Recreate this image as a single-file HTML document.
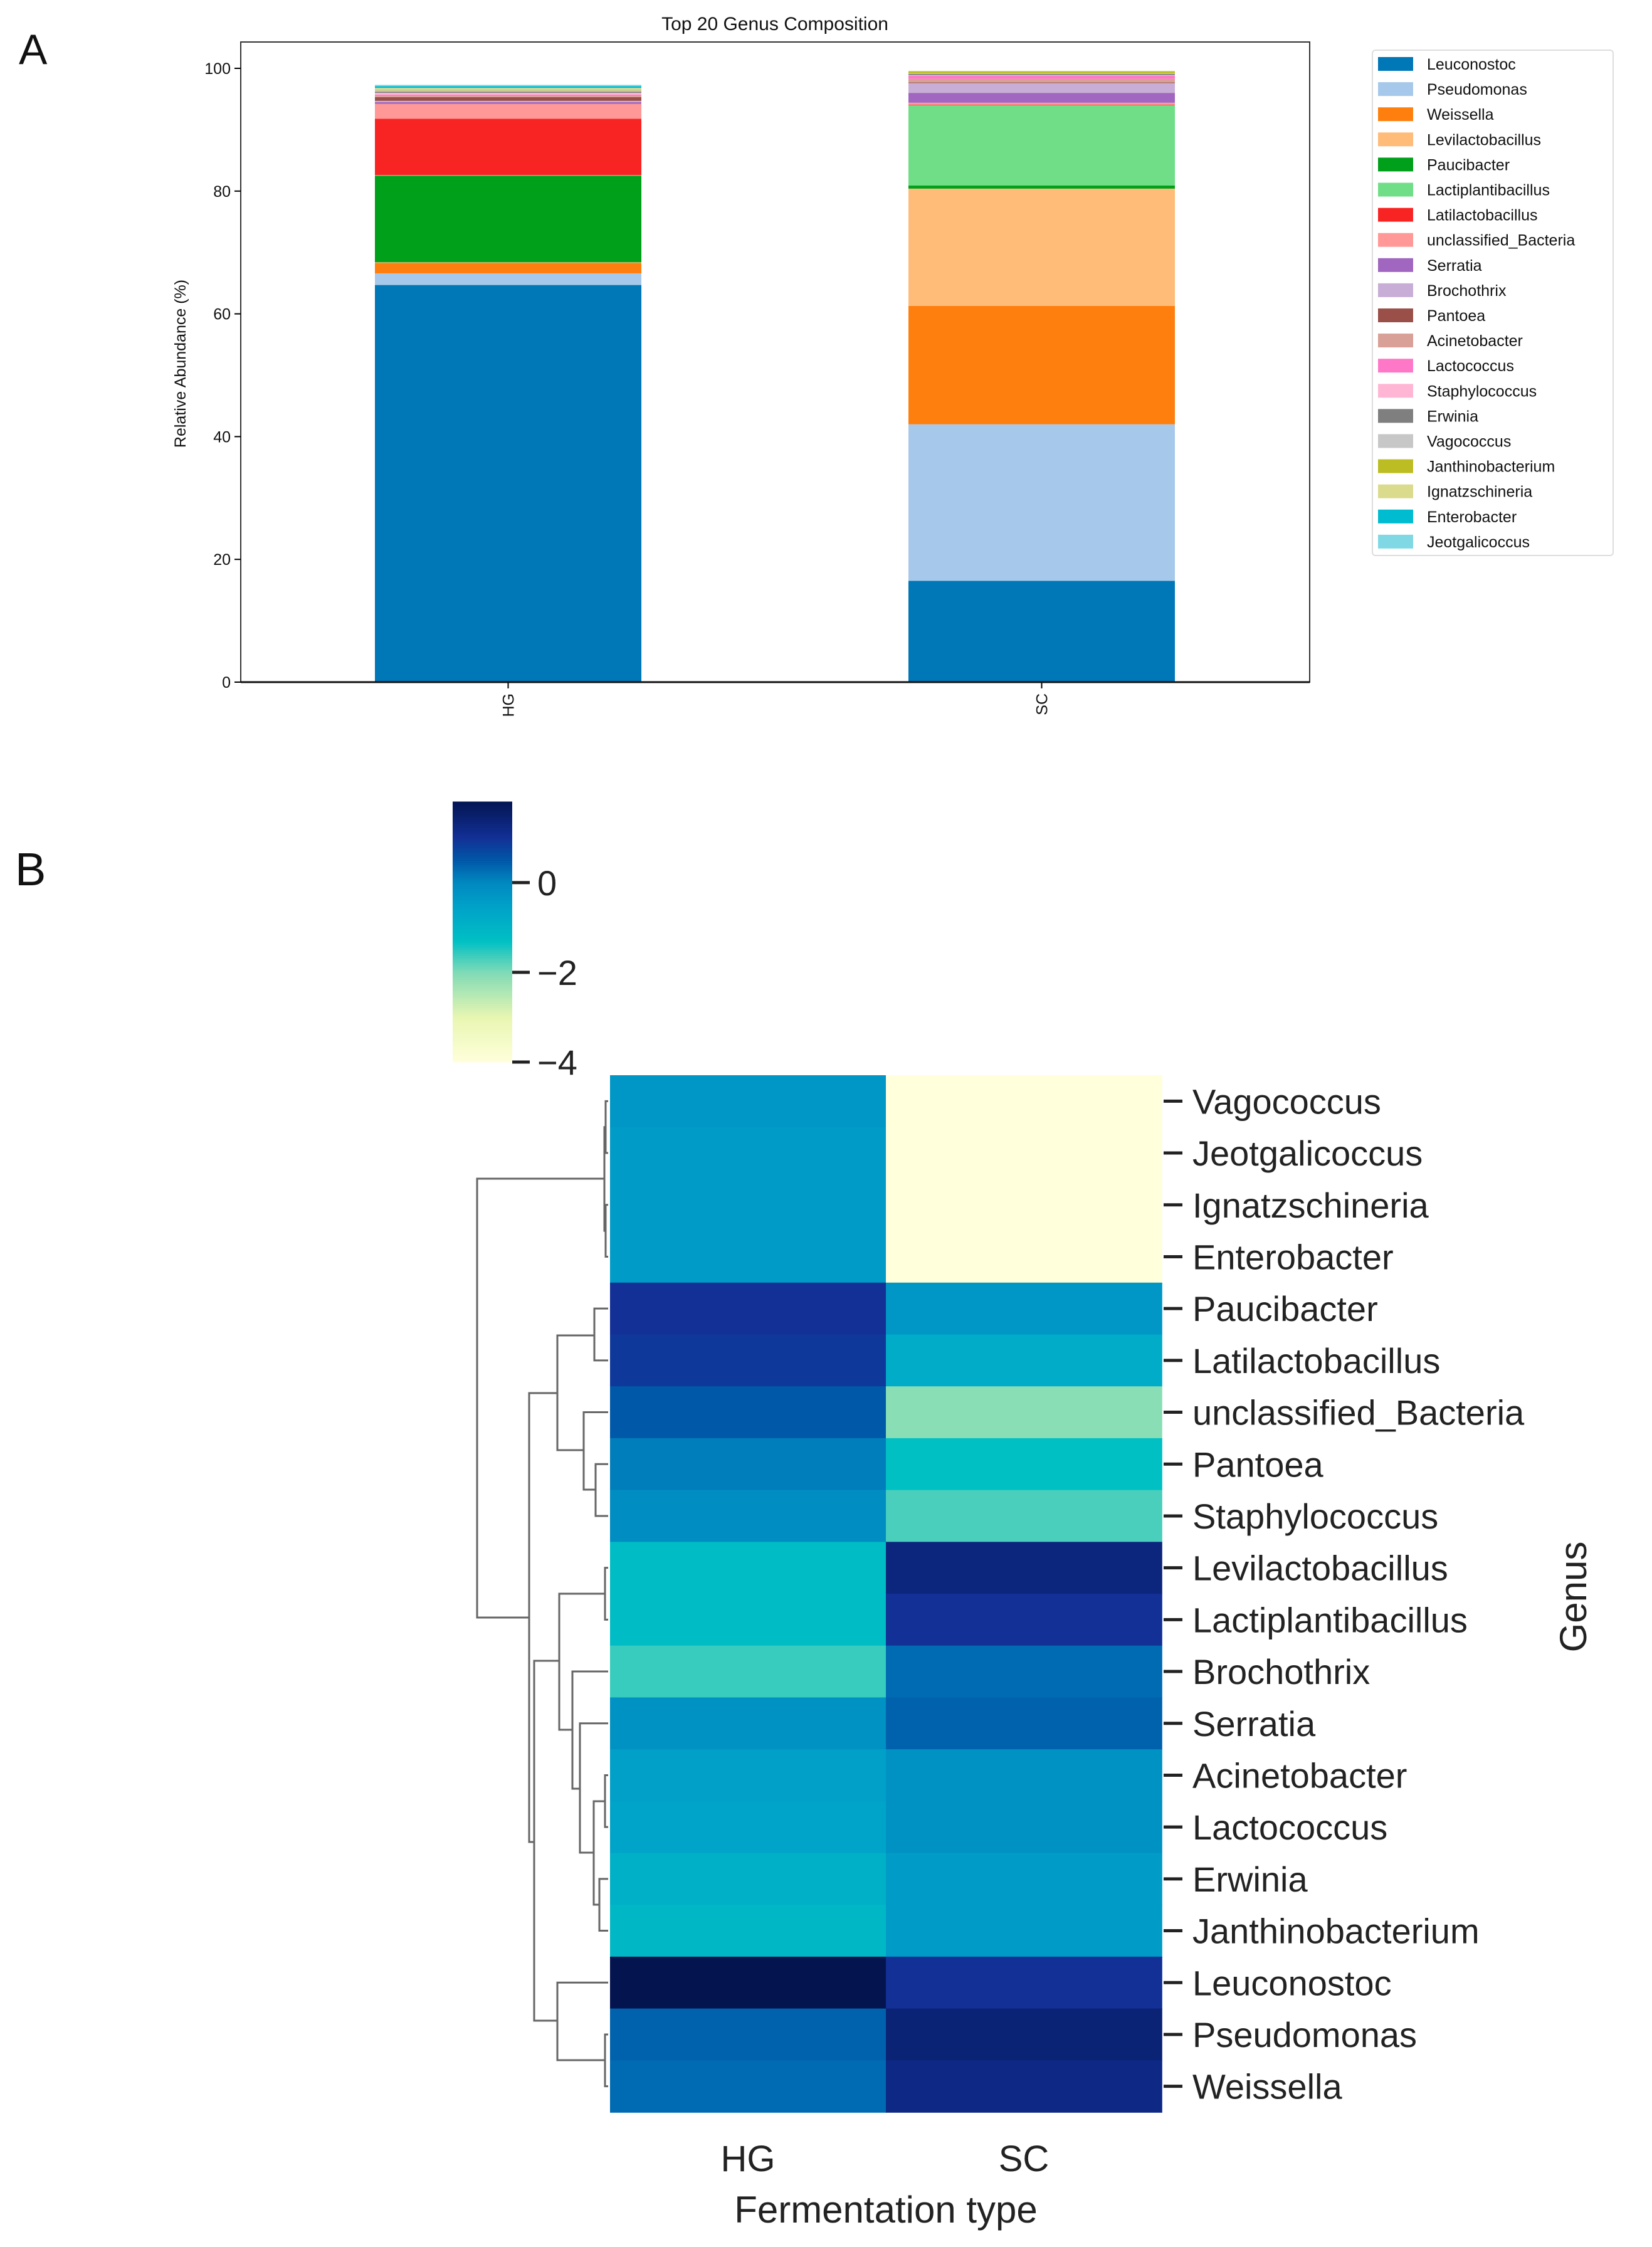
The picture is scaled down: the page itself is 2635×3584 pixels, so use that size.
<!DOCTYPE html>
<html><head><meta charset="utf-8"><style>
html,body{margin:0;padding:0;background:#fff;}
svg{display:block;}
text{font-family:"Liberation Sans",sans-serif;}
</style></head><body>
<svg id="fig" width="2635" height="3584" viewBox="0 0 2635 3584" xmlns="http://www.w3.org/2000/svg">
<rect x="0" y="0" width="2635" height="3584" fill="#fff"/>
<text x="30" y="102" font-size="68" fill="#111">A</text>
<text x="24" y="1412" font-size="74" fill="#111">B</text>
<g id="barchart"></g>
<g id="legend"></g>
<g id="heatmap"></g>
<g id="dendro"></g>
<g id="cbar"></g>
</svg>
<script>
const genera = ["Leuconostoc","Pseudomonas","Weissella","Levilactobacillus","Paucibacter","Lactiplantibacillus","Latilactobacillus","unclassified_Bacteria","Serratia","Brochothrix","Pantoea","Acinetobacter","Lactococcus","Staphylococcus","Erwinia","Vagococcus","Janthinobacterium","Ignatzschineria","Enterobacter","Jeotgalicoccus"];
const groups = ["HG","SC"];
const hgValues = [64.7,1.9,1.7,0.1,14.1,0.1,9.2,2.4,0.3,0.2,0.6,0.2,0.2,0.3,0.2,0.2,0.1,0.3,0.3,0.2];
const scValues = [16.5,25.5,19.3,19.1,0.5,13.1,0.1,0.3,1.6,1.6,0.1,0.6,0.5,0.1,0.2,0.1,0.3,0.1,0.0,0.0];
const yTicks = [0,20,40,60,80,100];
const colors = ["#0077b6","#a6c8ea","#ff7f0e","#ffbb78","#00a01a","#6fde86","#f82424","#ff9896","#a066c0","#c8aed6","#9a5048","#d8a096","#ff78c8","#ffb6d4","#7f7f7f","#c7c7c7","#bcbd22","#dbdb8d","#00bcd0","#80d8e4"];

const heatRows = ["Vagococcus","Jeotgalicoccus","Ignatzschineria","Enterobacter","Paucibacter","Latilactobacillus","unclassified_Bacteria","Pantoea","Staphylococcus","Levilactobacillus","Lactiplantibacillus","Brochothrix","Serratia","Acinetobacter","Lactococcus","Erwinia","Janthinobacterium","Leuconostoc","Pseudomonas","Weissella"];
const heatHG = [-0.3,-0.4,-0.4,-0.4,1.0,0.9,0.5,0.1,-0.1,-1.2,-1.2,-1.6,-0.2,-0.5,-0.6,-0.9,-1.1,1.85,0.4,0.3];
const heatSC = [-4,-4,-4,-4,-0.3,-0.8,-2.1,-1.3,-1.7,1.3,1.0,0.3,0.4,-0.2,-0.2,-0.4,-0.4,1.0,1.4,1.2];
const cbarTicks = [0,-2,-4];

const NS="http://www.w3.org/2000/svg";
function mk(tag,attrs,parent){const e=document.createElementNS(NS,tag);for(const k in attrs)e.setAttribute(k,attrs[k]);parent.appendChild(e);return e;}

// ---- Bar chart ----
const bc=document.getElementById('barchart');
const axL=384,axR=2089,axT=67,axB=1088,y0=1088,y100=109;
const yS=v=>y0-(y0-y100)*v/100;
const barX=[598,1449],barW=425;
let t=mk('text',{x:1236,y:48,'font-size':30,'text-anchor':'middle',fill:'#111'},bc);t.textContent="Top 20 Genus Composition";


[hgValues,scValues].forEach((vals,gi)=>{
  let cum=0;
  vals.forEach((v,i)=>{
    const r=mk('rect',{x:barX[gi],y:yS(cum+v),width:barW,height:Math.max(0,yS(cum)-yS(cum+v)),fill:colors[i]},bc);
    
    
    cum+=v;
  });
  const cx=barX[gi]+barW/2;
  mk('line',{x1:cx,x2:cx,y1:axB,y2:axB+10,stroke:'#000','stroke-width':2},bc);
  const xl=mk('text',{x:0,y:0,'font-size':25,'text-anchor':'end',fill:'#111',transform:`translate(${cx+9},${axB+18}) rotate(-90)`},bc);
  xl.textContent=groups[gi];
  
  
});
const fr=mk('rect',{x:axL,y:axT,width:axR-axL,height:axB-axT,fill:'none',stroke:'#333','stroke-width':2},bc);


mk('line',{x1:axL,x2:axR,y1:axB,y2:axB,stroke:'#111','stroke-width':3},bc);
yTicks.forEach(v=>{
  mk('line',{x1:axL-10,x2:axL,y1:yS(v),y2:yS(v),stroke:'#000','stroke-width':2},bc);
  const tl=mk('text',{x:axL-16,y:yS(v)+9,'font-size':25,'text-anchor':'end',fill:'#111'},bc);
  tl.textContent=v;
  
  
});
const yl=mk('text',{x:0,y:0,'font-size':25,'text-anchor':'middle',fill:'#111',transform:'translate(296,580) rotate(-90)'},bc);
yl.textContent="Relative Abundance (%)";



// ---- Legend ----
const lg=document.getElementById('legend');
mk('rect',{x:2189,y:80,width:384,height:806,rx:5,fill:'#fff',stroke:'#ddd','stroke-width':2},lg);
genera.forEach((g,i)=>{
  const cy=102+i*40.1;
  const it=mk('g',{},lg);
  
  
  mk('rect',{x:2198,y:cy-11,width:56,height:22,fill:colors[i]},it);
  const tx=mk('text',{x:2276,y:cy+9,'font-size':25,fill:'#111'},it);tx.textContent=g;
});

// ---- Heatmap ----
const stops=[[-4,[255,255,219]],[-3,[232,246,178]],[-2,[128,219,182]],[-1.3,[0,192,196]],[-0.5,[0,160,200]],[0,[0,136,192]],[0.5,[0,88,168]],[1.0,[18,48,150]],[1.85,[3,20,79]]];
function cmap(v){
  if(v<=stops[0][0])return `rgb(${stops[0][1]})`;
  for(let i=1;i<stops.length;i++){if(v<=stops[i][0]){const a=stops[i-1],b=stops[i],f=(v-a[0])/(b[0]-a[0]);return `rgb(${a[1].map((c,j)=>Math.round(c+(b[1][j]-c)*f)).join(',')})`;}}
  return `rgb(${stops[stops.length-1][1]})`;
}
const hm=document.getElementById('heatmap');
const hx=[973,1413],hw=440,hTop=1715,rh=82.7;
const rowY=i=>hTop+rh*i;
[heatHG,heatSC].forEach((vals,gi)=>{
  vals.forEach((v,i)=>{
    const r=mk('rect',{x:hx[gi],y:rowY(i),width:hw+0.8,height:rh+0.8,fill:cmap(v)},hm);
    
    
  });
  const xl=mk('text',{x:hx[gi]+hw/2,y:3463,'font-size':58,'text-anchor':'middle',fill:'#222'},hm);
  xl.textContent=groups[gi];
  
  
});
heatRows.forEach((g,i)=>{
  const cy=rowY(i)+rh/2;
  mk('line',{x1:1856,x2:1886,y1:cy,y2:cy,stroke:'#222','stroke-width':5},hm);
  const tx=mk('text',{x:1902,y:cy+20,'font-size':56,fill:'#222'},hm);tx.textContent=g;
  
  
});
let ft=mk('text',{x:1413,y:3545,'font-size':60,'text-anchor':'middle',fill:'#222'},hm);ft.textContent="Fermentation type";


let gt=mk('text',{x:0,y:0,'font-size':60,'text-anchor':'middle',fill:'#222',transform:'translate(2530,2547) rotate(-90)'},hm);gt.textContent="Genus";



// ---- Dendrogram ----
const dd=document.getElementById('dendro');
const rc=i=>rowY(i)+rh/2;
function U(x,y1,x1,y2,x2){mk('path',{d:`M${x1},${y1} H${x} V${y2} H${x2}`,fill:'none',stroke:'#666','stroke-width':3},dd);}
const leafX=970;
U(966,rc(0),leafX,rc(1),leafX);U(966,rc(2),leafX,rc(3),leafX);U(964,(rc(0)+rc(1))/2,966,(rc(2)+rc(3))/2,966);
U(761,1880,964,2580,844);
U(844,2222,889,2938,852);
U(889,2130,948,2313,931);
U(948,rc(4),leafX,rc(5),leafX);
U(931,rc(6),leafX,2376,950);
U(950,rc(7),leafX,rc(8),leafX);
U(852,2649,892,3223,889);
U(892,2542,965,2759,913);
U(965,rc(9),leafX,rc(10),leafX);
U(913,rc(11),leafX,2853,925);
U(925,rc(12),leafX,2955,947);
U(947,2873,965,3038,956);
U(965,rc(13),leafX,rc(14),leafX);
U(956,rc(15),leafX,rc(16),leafX);
U(889,rc(17),leafX,3286,965);
U(965,rc(18),leafX,rc(19),leafX);

// ---- Colorbar ----
const cb=document.getElementById('cbar');
const cbx=722,cbw=95,cbTop=1279,cbBot=1694,cbMax=1.8,cbMin=-4;
const cy=v=>cbBot-(cbBot-cbTop)*(v-cbMin)/(cbMax-cbMin);
for(let k=0;k<120;k++){
  const v=cbMin+(cbMax-cbMin)*(k+0.5)/120;
  mk('rect',{x:cbx,y:cy(cbMin+(cbMax-cbMin)*(k+1)/120)-0.5,width:cbw,height:(cbBot-cbTop)/120+1,fill:cmap(v)},cb);
}
cbarTicks.forEach(v=>{
  mk('line',{x1:cbx+cbw,x2:cbx+cbw+28,y1:cy(v),y2:cy(v),stroke:'#222','stroke-width':5},cb);
  const tx=mk('text',{x:cbx+cbw+40,y:cy(v)+20,'font-size':56,fill:'#222'},cb);
  tx.textContent=v<0?'\u2212'+Math.abs(v):String(v);
  
  
});
</script>
</body></html>
